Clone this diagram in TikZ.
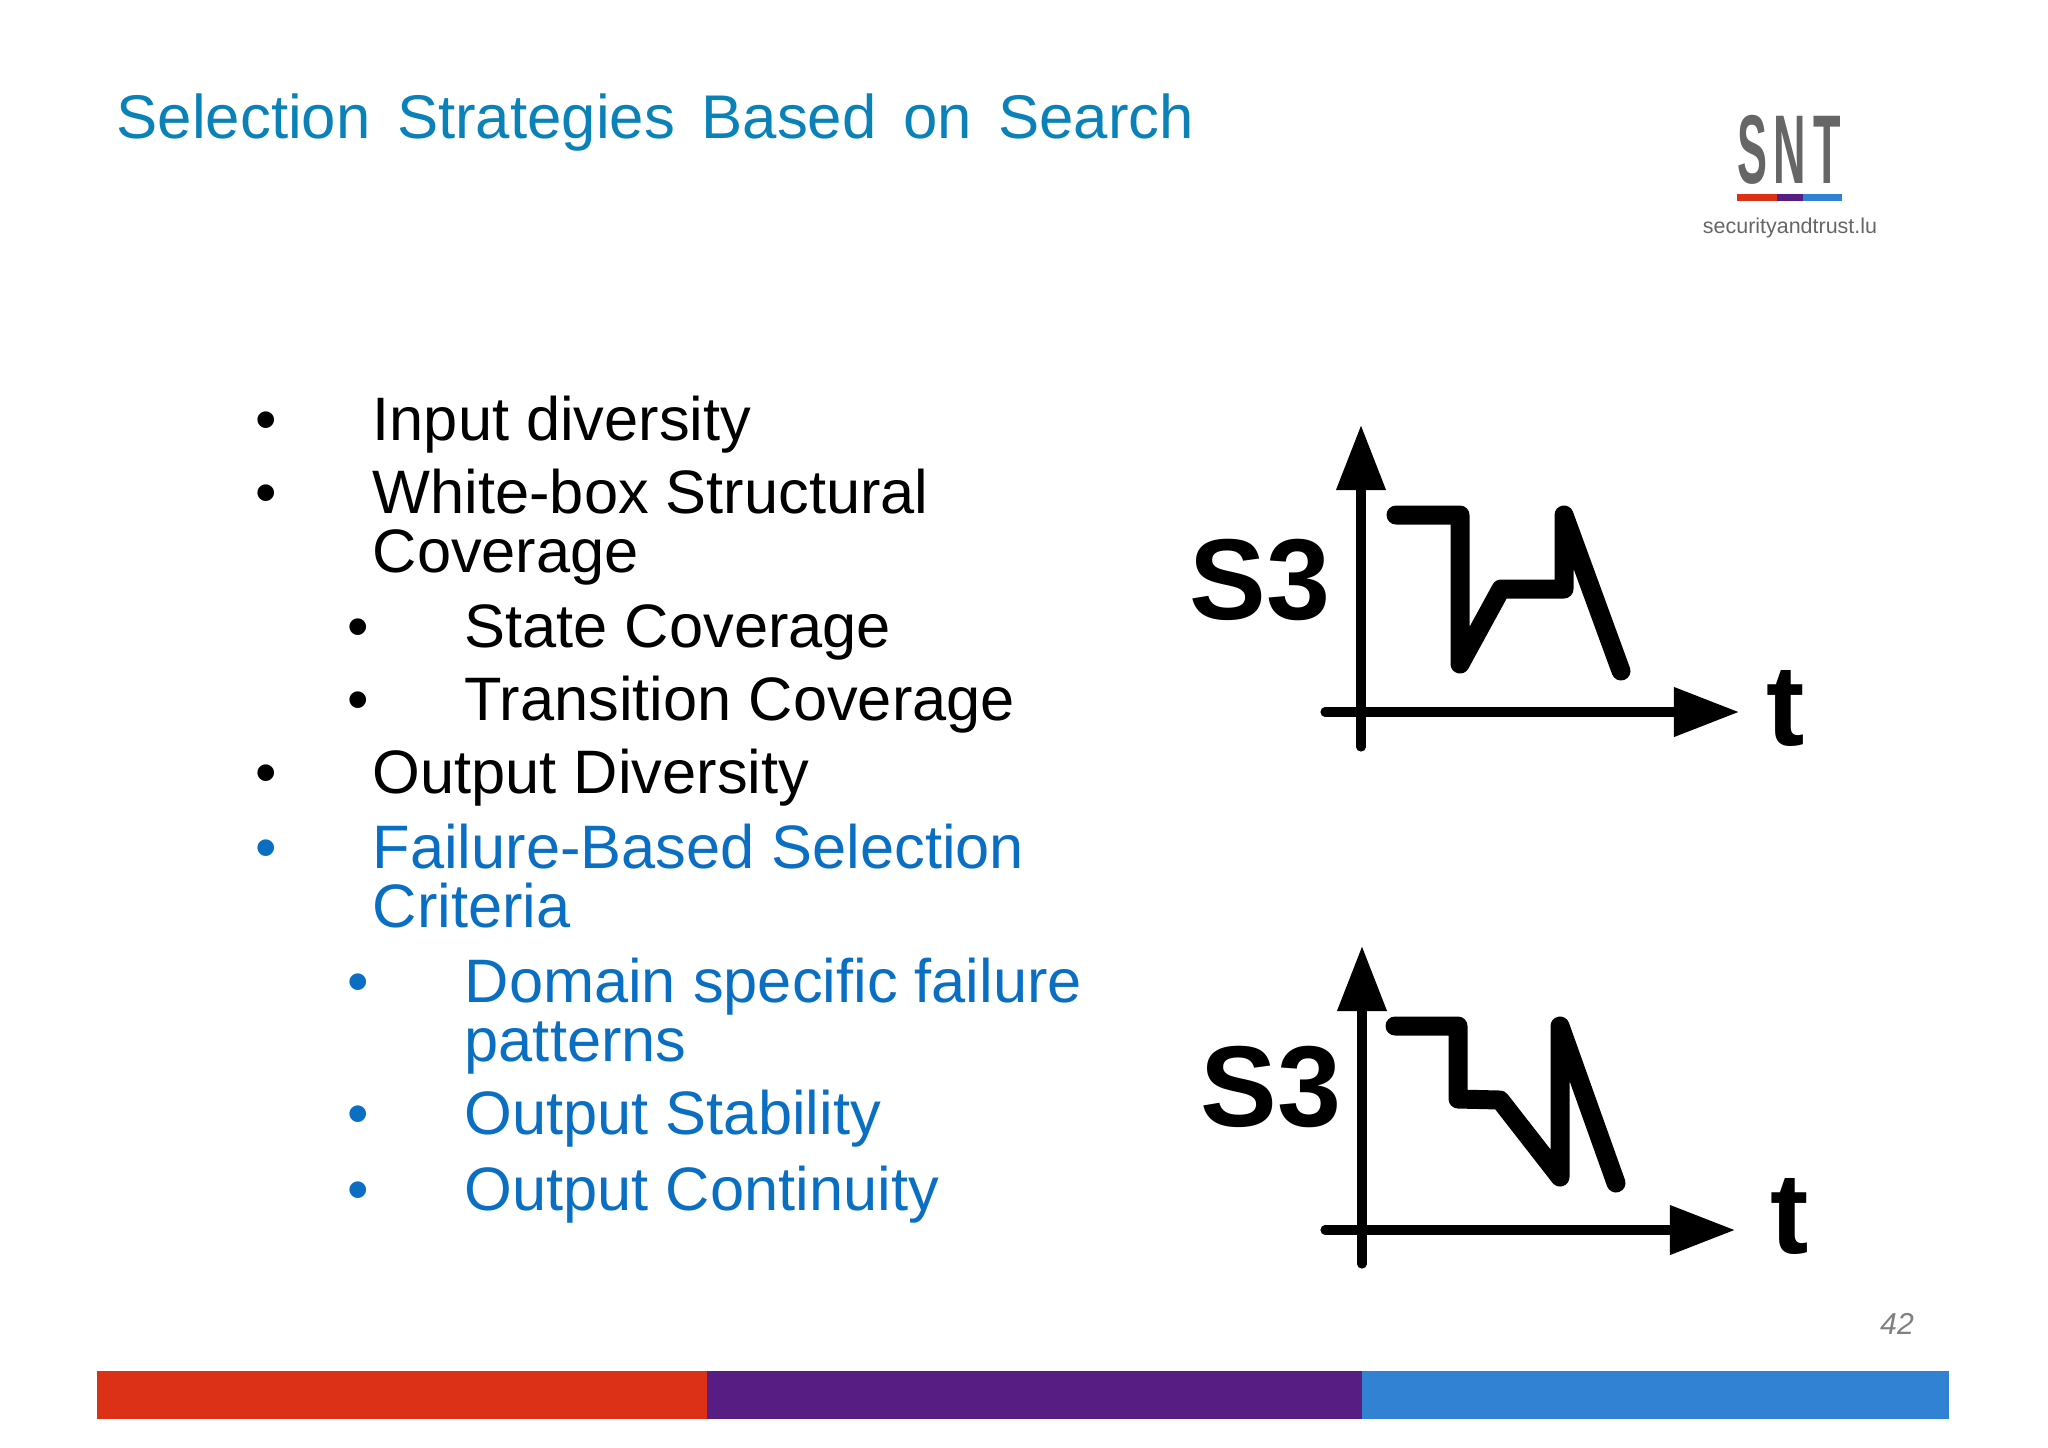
\documentclass[tikz,border=0pt]{standalone}
\usepackage{fontspec}
\setmainfont{Liberation Sans}
\newfontfamily\titlefont[WordSpace=1.55]{Liberation Sans}
\usepackage{xcolor}
\usepackage{tikz}
\usetikzlibrary{arrows.meta}
\definecolor{titleblue}{HTML}{0A82B8}
\definecolor{bodyblue}{HTML}{0A6FC2}
\definecolor{barred}{HTML}{DC3017}
\definecolor{barpurple}{HTML}{581D82}
\definecolor{barblue}{HTML}{3182D2}
\definecolor{logogray}{HTML}{666666}

\begin{document}
\begin{tikzpicture}[
x=0.01cm,y=-0.01cm,
item/.style={anchor=base west,inner sep=0pt,font=\fontsize{17.45}{17.45}\selectfont},
bodytext/.style={item,text=bodyblue},
chartlabel/.style={anchor=base west,inner sep=0pt,font=\fontsize{32.7}{32.7}\selectfont\bfseries},
axis/.style={line width=2.6pt,line cap=round,-{Triangle[length=18.5pt,width=13.5pt]}},
curve/.style={line width=5.4pt,line cap=round,line join=round}]
\useasboundingbox (0,0) rectangle (2048,1447);

% Title and logo
\node (title) [anchor=base west,inner sep=0pt,text=titleblue,font=\titlefont\fontsize{17.55}{17.55}\selectfont]
at (116,138) {Selection Strategies Based on Search};
\node (snt) [anchor=base,inner sep=0pt,text=logogray,font=\fontsize{27.8}{27.8}\selectfont\bfseries]
at (1789,183) {\scalebox{.46}[1]{S\hspace{.15em}N\hspace{.15em}T}};
\fill[barred] (1737,194) rectangle (1777,201);
\fill[barpurple] (1777,194) rectangle (1803,201);
\fill[barblue] (1803,194) rectangle (1842,201);
\node (web) [anchor=base,inner sep=0pt,text=logogray,font=\fontsize{6.1}{6.1}\selectfont]
at (1790,233) {securityandtrust.lu};

% Bullet list
\node (b1) [item] at (255,440) {•};
\node (t1) [item] at (372,440) {Input diversity};
\node (b2) [item] at (255,513) {•};
\node (t2) [item] at (372,513) {White-box Structural};
\node (t2a) [item] at (372,572) {Coverage};
\node (b3) [item] at (347,647) {•};
\node (t3) [item] at (464,647) {State Coverage};
\node (b4) [item] at (347,720) {•};
\node (t4) [item] at (464,720) {Transition Coverage};
\node (b5) [item] at (255,793) {•};
\node (t5) [item] at (372,793) {Output Diversity};
\node (b6) [bodytext] at (255,868) {•};
\node (t6) [bodytext] at (372,868) {Failure-Based Selection};
\node (t6a) [bodytext] at (372,927) {Criteria};
\node (b7) [bodytext] at (347,1002) {•};
\node (t7) [bodytext] at (464,1002) {Domain specific failure};
\node (t7a) [bodytext] at (464,1061) {patterns};
\node (b8) [bodytext] at (347,1134) {•};
\node (t8) [bodytext] at (464,1134) {Output Stability};
\node (b9) [bodytext] at (347,1210) {•};
\node (t9) [bodytext] at (464,1210) {Output Continuity};

% Upper chart
\draw[axis] (1361,747) -- (1361,425);
\draw[axis] (1325,712) -- (1739,712);
\draw[curve] (1396,515) -- (1460,515) -- (1460,664) -- (1501,589) -- (1564,589) -- (1564,515) -- (1621,671);
\node (upperS) [chartlabel] at (1189,619) {S3};
\node (uppert) [chartlabel] at (1766,745) {t};

% Lower chart
\draw[axis] (1362,1264) -- (1362,946);
\draw[axis] (1325,1230) -- (1735,1230);
\draw[curve] (1395,1026) -- (1458,1026) -- (1458,1099) -- (1500,1100) -- (1560,1177) -- (1560,1026) -- (1616,1183);
\node (lowerS) [chartlabel] at (1200,1126) {S3};
\node (lowert) [chartlabel] at (1770,1253) {t};

% Page number and footer bar
\node (page) [anchor=base,inner sep=0pt,text=gray,font=\fontsize{8.6}{8.6}\selectfont\itshape] at (1897,1334) {42};
\fill[barred] (97,1371) rectangle (707,1419);
\fill[barpurple] (707,1371) rectangle (1362,1419);
\fill[barblue] (1362,1371) rectangle (1949,1419);

\end{tikzpicture}
\end{document}
